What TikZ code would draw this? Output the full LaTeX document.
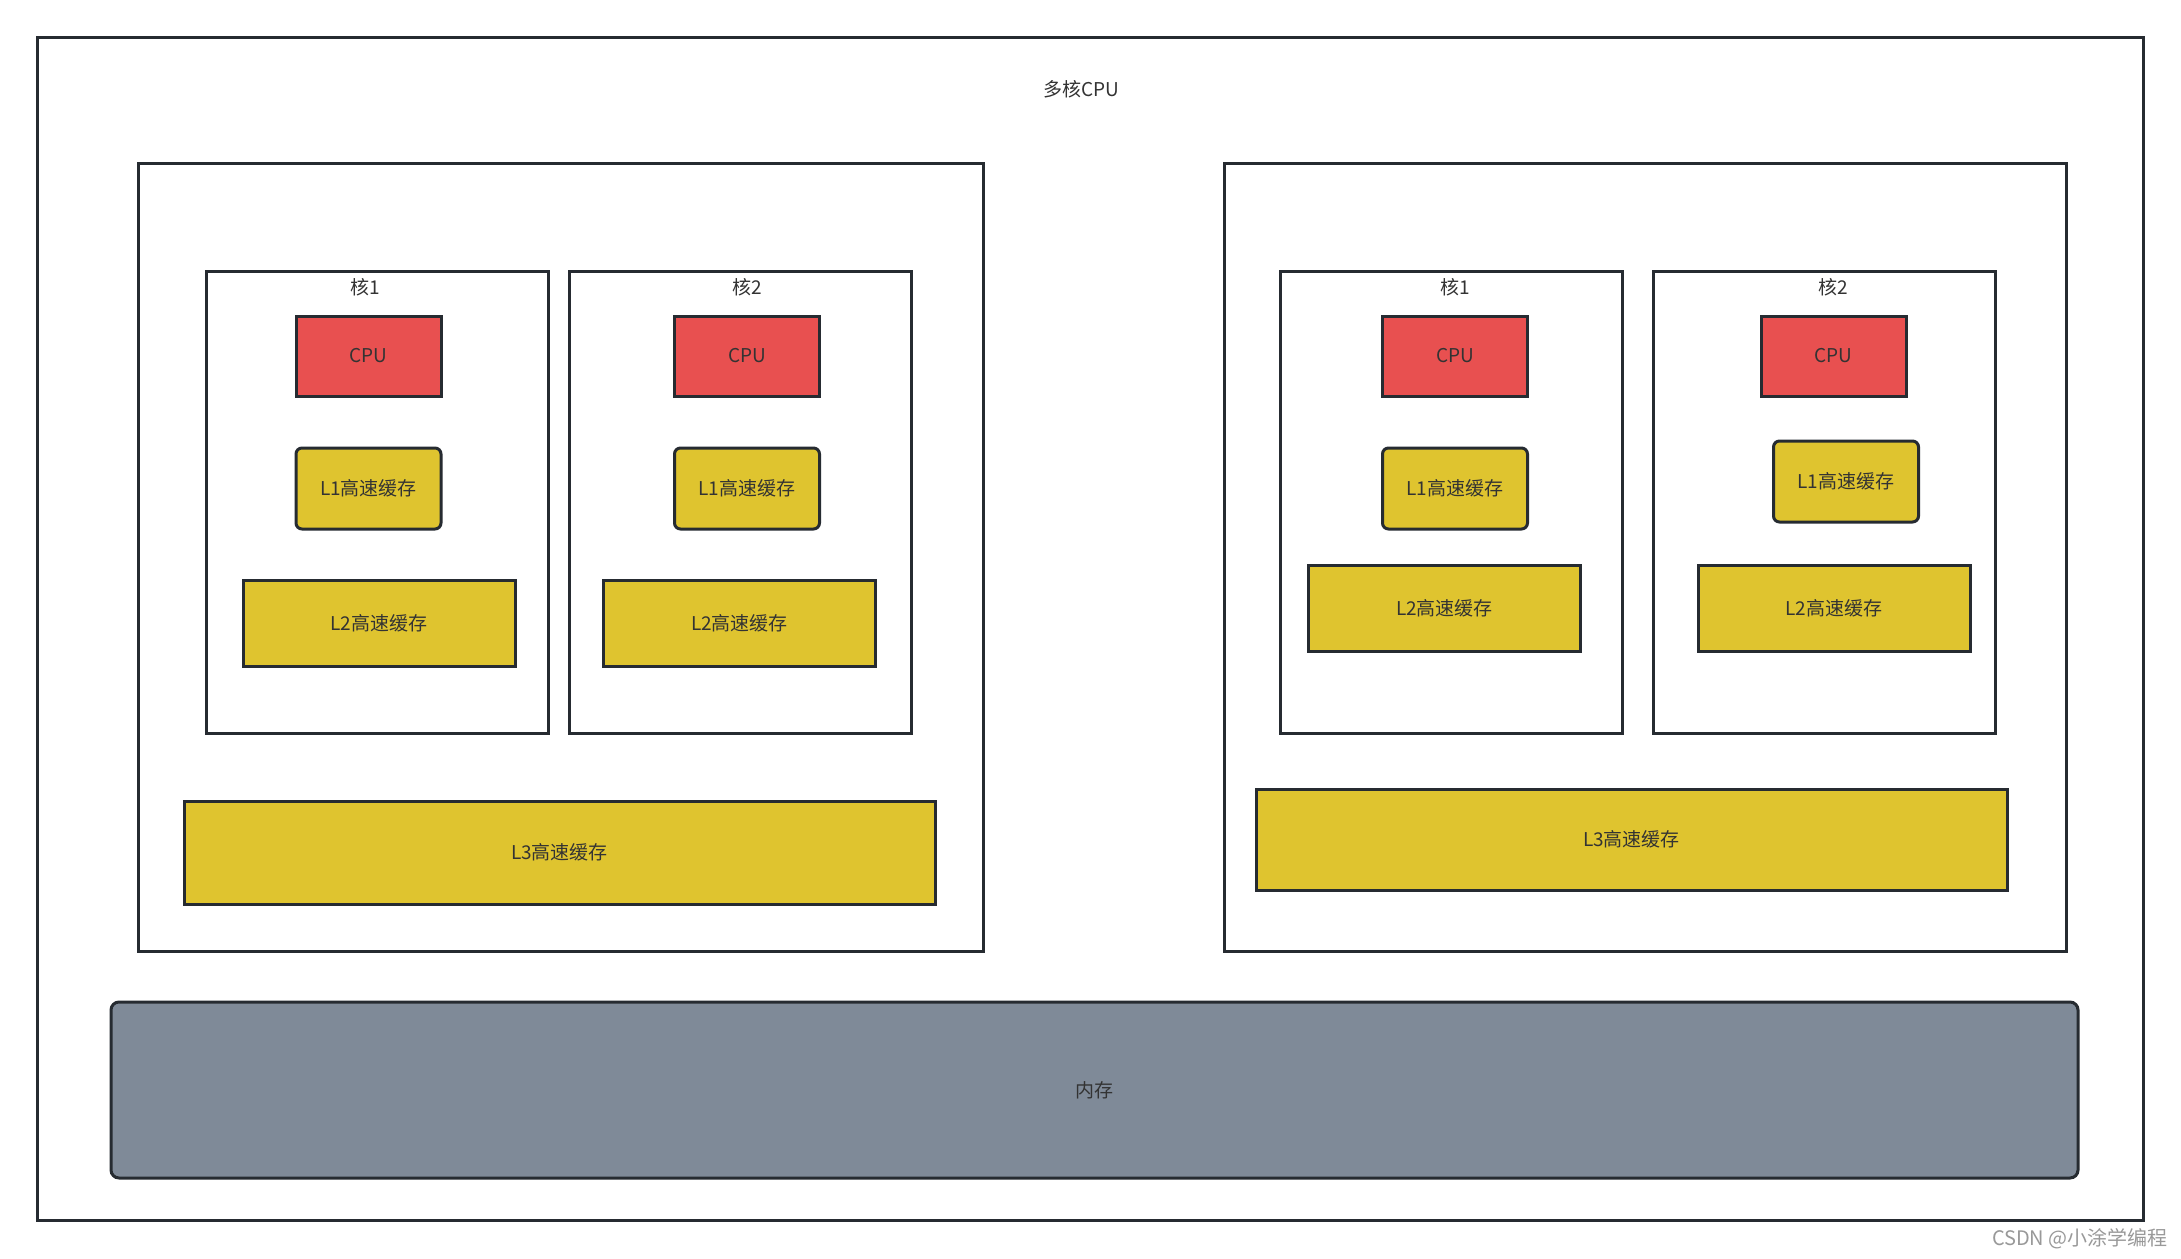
\documentclass[tikz,border=0pt]{standalone}
\usepackage{fontspec}
\setmainfont{Noto Sans CJK SC}
\usetikzlibrary{positioning}
\definecolor{cpured}{HTML}{E85050}
\definecolor{cacheyellow}{HTML}{DFC42F}
\definecolor{memgray}{HTML}{7F8A98}
\definecolor{edgedark}{HTML}{262B31}
\definecolor{inkgray}{HTML}{333333}

\begin{document}
\begin{tikzpicture}[x=1pt,y=-1pt,
   every node/.style={font=\fontsize{19}{23}\selectfont,text=inkgray},
   frame/.style={draw=edgedark,line width=3pt,rectangle,inner sep=0pt},
   cpubox/.style={frame,fill=cpured,minimum width=145pt,minimum height=80pt},
   lonebox/.style={frame,fill=cacheyellow,rounded corners=6pt,minimum width=145pt,minimum height=81pt},
   ltwobox/.style={frame,fill=cacheyellow,minimum width=272pt,minimum height=86pt},
   lthreebox/.style={frame,fill=cacheyellow,minimum width=751pt},
   corebox/.style={frame,minimum width=342pt,minimum height=462pt},
   packbox/.style={frame,minimum height=788pt},
   tag/.style={inner sep=0pt}]
\useasboundingbox[fill=white] (0,0) rectangle (2181,1258);
% outer frame and packages
\node[frame,minimum width=2106pt,minimum height=1183pt] (multi) at (1090,629) {};
\node[tag] (title) at (1081,89) {多核CPU};
\node[packbox,minimum width=845pt] (packL) at (560.5,557) {};
\node[packbox,minimum width=842pt] (packR) at (1645,557) {};
% left package
\node[corebox] (coreLa) at (377,502) {};
\node[corebox] (coreLb) at (740.5,502) {};
\node[cpubox] (cpuLa) at (368.5,356) {CPU};
\node[cpubox] (cpuLb) at (747,356) {CPU};
\node[tag,above=18pt of cpuLa,xshift=-3pt] {核1};
\node[tag,above=18pt of cpuLb] {核2};
\node[lonebox] (lonLa) at (368.5,488.5) {L1高速缓存};
\node[lonebox] (lonLb) at (747,488.5) {L1高速缓存};
\node[ltwobox] (ltwLa) at (379,623) {L2高速缓存};
\node[ltwobox] (ltwLb) at (739.5,623) {L2高速缓存};
\node[lthreebox,minimum height=103pt] (lthL) at (559.5,852.5) {L3高速缓存};
% right package
\node[corebox] (coreRa) at (1451,502) {};
\node[corebox] (coreRb) at (1824.5,502) {};
\node[cpubox] (cpuRa) at (1455,356) {CPU};
\node[cpubox] (cpuRb) at (1833.5,356) {CPU};
\node[tag,above=18pt of cpuRa] {核1};
\node[tag,above=18pt of cpuRb] {核2};
\node[lonebox] (lonRa) at (1455,488.5) {L1高速缓存};
\node[lonebox] (lonRb) at (1846,481.5) {L1高速缓存};
\node[ltwobox] (ltwRa) at (1444.5,608) {L2高速缓存};
\node[ltwobox] (ltwRb) at (1834,608) {L2高速缓存};
\node[lthreebox,minimum height=101pt] (lthR) at (1631.5,839.5) {L3高速缓存};
% memory
\node[frame,fill=memgray,rounded corners=8pt,minimum width=1967pt,minimum height=176pt] (mem) at (1094.5,1090) {内存};
\node[tag,anchor=east,text=gray!80,font=\fontsize{20}{24}\selectfont] (mark) at (2168,1239) {CSDN @小涂学编程};
\end{tikzpicture}
\end{document}
